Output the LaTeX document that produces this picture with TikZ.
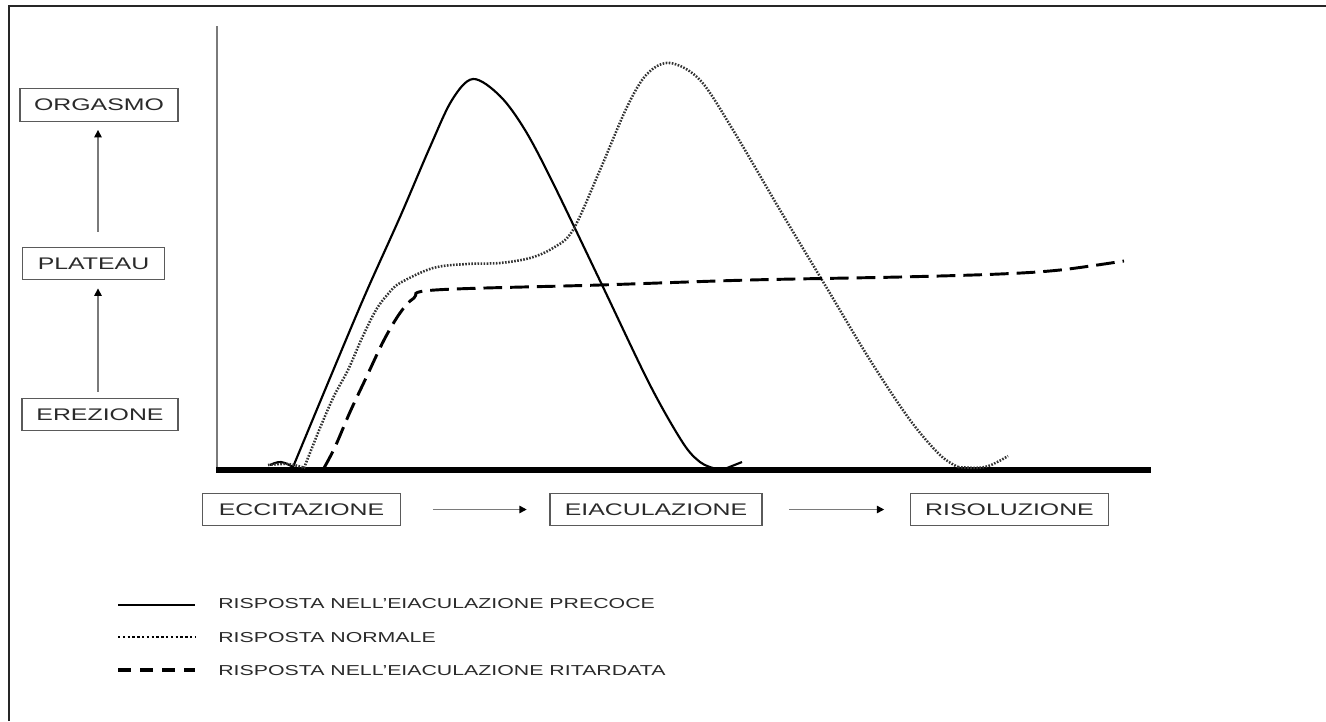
\documentclass[tikz,border=0pt]{standalone}
\usepackage{fontspec}
\setmainfont[FakeStretch=1.48]{Liberation Sans}
\usetikzlibrary{arrows.meta}
\definecolor{txt}{HTML}{2A2A2A}
\definecolor{boxline}{HTML}{5A5A5A}
\definecolor{axisgray}{HTML}{7A7A7A}
\begin{document}
\begin{tikzpicture}[x=0.75pt,y=-0.75pt,
  stage/.style={draw=boxline,line width=0.9pt,text=txt,
    font=\fontsize{12.6}{14}\selectfont,inner sep=0pt,minimum height=24.5pt},
  flow/.style={draw=axisgray,line width=1.1pt,
    -{Triangle[length=5.5pt,width=5.5pt,color=black]}},
  legtext/.style={anchor=west,text=txt,font=\fontsize{10.8}{12}\selectfont,inner sep=0pt},
  precoce/.style={line width=1.6pt,black,line join=round},
  normale/.style={line width=1.9pt,black!80,dash pattern=on 1.2pt off 1.1pt},
  ritardata/.style={line width=2.2pt,black,dash pattern=on 14pt off 6pt},
]
\useasboundingbox (0,0) rectangle (1326,721);

% frame
\draw[line width=1.2pt,black!85] (9,721) -- (9,6) -- (1326,6);

% axes
\draw[axisgray,line width=1.5pt] (216.5,26) -- (216.5,468);
\draw[line width=4.5pt] (216,470) -- (1151,470);

% vertical stages
\node[stage,minimum width=118.5pt] (orgasmo) at (99,105) {ORGASMO};
\node[stage,minimum width=107pt] (plateau) at (93.5,263.5) {PLATEAU};
\node[stage,minimum width=117pt] (erezione) at (100,414.5) {EREZIONE};
\draw[flow,shorten <=4.5pt,shorten >=6pt] (erezione.north -| 98,0) -- (plateau.south -| 98,0);
\draw[flow,shorten <=11pt,shorten >=6pt] (plateau.north -| 98,0) -- (orgasmo.south -| 98,0);

% horizontal stages
\node[stage,minimum width=148pt] (eccitazione) at (301.5,509.5) {ECCITAZIONE};
\node[stage,minimum width=159pt] (eiaculazione) at (656,509.5) {EIACULAZIONE};
\node[stage,minimum width=149pt] (risoluzione) at (1009.5,509.5) {RISOLUZIONE};
\draw[flow,shorten <=24pt,shorten >=17pt] (eccitazione.east) -- (eiaculazione.west);
\draw[flow,shorten <=20pt,shorten >=19pt] (eiaculazione.east) -- (risoluzione.west);

% premature response
\draw[precoce] plot[smooth,tension=0.7] coordinates {(270,465) (281,462) (293,467)};
\draw[precoce] plot[smooth,tension=0.55] coordinates {
  (293,467) (330,378) (365,295) (400,217) (430,147) (452,100) (473,79)
  (500,96) (525,130) (553,183) (603,287) (650,385) (683,443) (700,462) (713,468)};
\draw[precoce] (727,468) -- (742,462);

% normal response
\draw[normale] plot[smooth,tension=0.6] coordinates {(268,465) (288,464) (305,468)};
\draw[normale] plot[smooth,tension=0.55] coordinates {
  (304,468) (320,428) (334,396) (348,370) (362,338) (376,310) (388,294)
  (400,283) (433,268) (467,264) (500,263) (530,258) (553,248) (573,230)
  (600,170) (627,107) (647,74) (670,63) (700,80) (733,130) (780,210)
  (825,285) (870,360) (910,420) (940,455) (958,467)};
\draw[normale] plot[smooth,tension=0.6] coordinates {(958,467) (985,467) (1008,456)};

% delayed response
\draw[ritardata] plot[smooth,tension=0.55] coordinates {
  (324,468) (335,447) (350,412) (366,378) (384,340) (400,313) (414,298)
  (435,290) (600,285) (750,280) (900,277) (1000,274) (1060,270) (1124,261)};

% legend
\node[legtext] (lp) at (218,604) {RISPOSTA NELL'EIACULAZIONE PRECOCE};
\node[legtext] (ln) at (218,637.5) {RISPOSTA NORMALE};
\node[legtext] (lr) at (218,671) {RISPOSTA NELL'EIACULAZIONE RITARDATA};
\draw[line width=2.2pt] (118,605) -- (195,605);
\draw[line width=2.2pt,dash pattern=on 1.8pt off 1.8pt] (118,637) -- (195,637);
\draw[line width=2.4pt,dash pattern=on 10pt off 6.5pt] (118,670) -- (195,670);
\end{tikzpicture}
\end{document}
